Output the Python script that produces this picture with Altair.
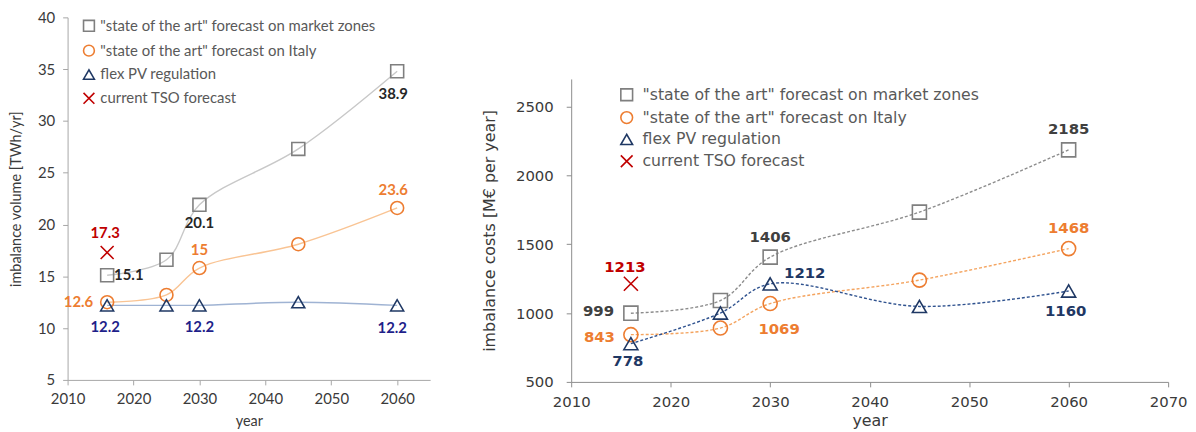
import altair as alt
import pandas as pd

# ---------------- data ----------------
years = [2016, 2025, 2030, 2045, 2060]
tso_years = [2016]
series_names = [
    '"state of the art" forecast on market zones',
    '"state of the art" forecast on Italy',
    'flex PV regulation',
    'current TSO forecast',
]

# left panel: imbalance volume [TWh/yr]
vol_market = [15.1, 16.6, 21.9, 27.3, 34.8]
vol_italy = [12.5, 13.2, 15.8, 18.1, 21.6]
vol_flex = [12.2, 12.2, 12.2, 12.5, 12.2]
vol_tso = [17.3]

# right panel: imbalance costs [M€ per year]
cost_market = [999, 1091, 1406, 1733, 2185]
cost_italy = [843, 891, 1069, 1239, 1468]
cost_flex = [778, 1000, 1212, 1048, 1160]
cost_tso = [1213]

# data labels (series index, year, text)
vol_label_series = [0, 0, 0, 1, 1, 1, 2, 2, 2, 3]
vol_label_years = [2016, 2030, 2060, 2016, 2030, 2060, 2016, 2030, 2060, 2016]
vol_label_texts = ["15.1", "20.1", "38.9", "12.6", "15", "23.6", "12.2", "12.2", "12.2", "17.3"]

cost_label_series = [0, 0, 0, 1, 1, 1, 2, 2, 2, 3]
cost_label_years = [2016, 2030, 2060, 2016, 2030, 2060, 2016, 2030, 2060, 2016]
cost_label_texts = ["999", "1406", "2185", "843", "1069", "1468", "778", "1212", "1160", "1213"]

vol_ticks_x = [2010, 2020, 2030, 2040, 2050, 2060]
vol_ticks_y = [5, 10, 15, 20, 25, 30, 35, 40]
cost_ticks_x = [2010, 2020, 2030, 2040, 2050, 2060, 2070]
cost_ticks_y = [500, 1000, 1500, 2000, 2500]

# ---------------- styles ----------------
marker_colors = ["#7f7f7f", "#ed7d31", "#1f3864", "#c00000"]
x_path = "M-1,-1L1,1M-1,1L1,-1"
shapes = ["square", "circle", "triangle-up", x_path]

left_line_colors = ["#c8c8c8", "#f9c494", "#9fb3d3"]
right_line_colors = ["#8c8c8c", "#f4a35e", "#2f528f"]
left_label_colors = ["#262626", "#ed7d31", "#1f1f8a", "#c00000"]
right_label_colors = ["#404040", "#ed7d31", "#1f3864", "#c00000"]

# label placements (dx, dy, align) in label order
left_place = [(7, 0, "left"), (0, 18, "center"), (-4, 23, "center"),
              (-14, 0, "right"), (0, -18, "center"), (-4, -18, "center"),
              (-2, 22, "center"), (0, 22, "center"), (-5, 23, "center"),
              (-2, -20, "center")]
right_place = [(-17, -2, "right"), (0, -20, "center"), (0, -21, "center"),
               (-16, 2, "right"), (9, 26, "center"), (0, -21, "center"),
               (-3, 18, "center"), (14, -11, "left"), (-3, 20, "center"),
               (-6, -17, "center")]


def build_panel(vals, tso, lbl_series, lbl_years, lbl_texts, place,
                line_colors, label_colors, dashed, font, tick_size, title_size,
                label_size, legend_size, xdom, ydom, xticks, yticks, ytitle,
                width, height, msize, legend_xy, legend_row, legend_off,
                ylab_pad, ytitle_pad, xlab_pad, xtitle_pad, axis_color):
    rows = []
    for s, v in enumerate(vals):
        for y, val in zip(years, v):
            rows.append({"year": y, "value": val, "series": series_names[s]})
    for y, val in zip(tso_years, tso):
        rows.append({"year": y, "value": val, "series": series_names[3]})
    df = pd.DataFrame(rows)

    common = dict(grid=False, labelFont=font, titleFont=font, labelFontSize=tick_size,
                  titleFontSize=title_size, titleFontWeight="normal",
                  labelColor="#3a3a3a", titleColor="#3a3a3a",
                  domainColor=axis_color, tickColor=axis_color, tickSize=5,
                  labelFlush=False, labelOverlap=False)
    xenc = alt.X("year:Q", scale=alt.Scale(domain=xdom, nice=False, zero=False),
                 axis=alt.Axis(values=xticks, format="d", title="year",
                               labelPadding=xlab_pad, titlePadding=xtitle_pad, **common))
    yenc = alt.Y("value:Q", scale=alt.Scale(domain=ydom, nice=False, zero=False),
                 axis=alt.Axis(values=yticks, format="d", title=ytitle,
                               labelPadding=ylab_pad, titlePadding=ytitle_pad, **common))

    layers = []
    for s in range(3):
        sub = df[df.series == series_names[s]]
        props = dict(interpolate="catmull-rom", color=line_colors[s], strokeWidth=1.4)
        if dashed:
            props["strokeDash"] = [3, 2]
        layers.append(alt.Chart(sub).mark_line(**props).encode(x=xenc, y=yenc))

    legend = alt.Legend(title=None, orient="none", legendX=legend_xy[0], legendY=legend_xy[1],
                        labelFont=font, labelFontSize=legend_size, labelColor="#595959",
                        symbolSize=msize * 0.7, symbolStrokeWidth=1.6, rowPadding=legend_row,
                        labelLimit=500, symbolOffset=0, labelOffset=legend_off)
    pts = alt.Chart(df).mark_point(filled=False, strokeWidth=1.6, size=msize, opacity=1).encode(
        x=xenc, y=yenc,
        color=alt.Color("series:N", scale=alt.Scale(domain=series_names, range=marker_colors),
                        legend=legend),
        shape=alt.Shape("series:N", scale=alt.Scale(domain=series_names, range=shapes),
                        legend=legend),
    )
    layers.append(pts)

    allv = vals + [tso]
    for i, (s, yr, txt) in enumerate(zip(lbl_series, lbl_years, lbl_texts)):
        src_years = years if s < 3 else tso_years
        val = allv[s][src_years.index(yr)]
        d = pd.DataFrame({"year": [yr], "value": [val], "text": [txt]})
        dx, dy, al = place[i]
        layers.append(alt.Chart(d).mark_text(
            dx=dx, dy=dy, align=al, baseline="middle", font=font, fontSize=label_size,
            fontWeight="bold", color=label_colors[s]).encode(x=xenc, y=yenc, text="text:N"))

    return alt.layer(*layers).properties(width=width, height=height)


left = build_panel([vol_market, vol_italy, vol_flex], vol_tso,
                   vol_label_series, vol_label_years, vol_label_texts, left_place,
                   left_line_colors, left_label_colors, False, "Lato", 15, 14.5, 15, 15,
                   [2010, 2065], [5, 40], vol_ticks_x, vol_ticks_y,
                   "imbalance volume [TWh/yr]", 365, 365, 170, (14, 1), 6, 4,
                   8, 14, 7, 8, "#a6a6a6")

right = build_panel([cost_market, cost_italy, cost_flex], cost_tso,
                    cost_label_series, cost_label_years, cost_label_texts, right_place,
                    right_line_colors, right_label_colors, True, "DejaVu Sans", 15, 16, 15, 15.8,
                    [2010, 2070], [500, 2700], cost_ticks_x, cost_ticks_y,
                    "imbalance costs [M€ per year]", 601, 305, 200, (48, 70), 3, 8,
                    13, 18, 8, 3, "#8c8c8c")

spacer = alt.Chart(pd.DataFrame({"a": [0]})).mark_point(opacity=0).encode(
    x=alt.value(0), y=alt.value(0)).properties(width=10, height=62)

right_col = alt.vconcat(spacer, right, spacing=0)

chart = alt.hconcat(left, right_col, spacing=51).properties(
    padding={"left": 0, "top": 1, "right": 0, "bottom": 0}
).configure_view(stroke=None).resolve_scale(color="independent", shape="independent")

chart.save("out.html", embed_options={"renderer": "svg", "actions": False})
